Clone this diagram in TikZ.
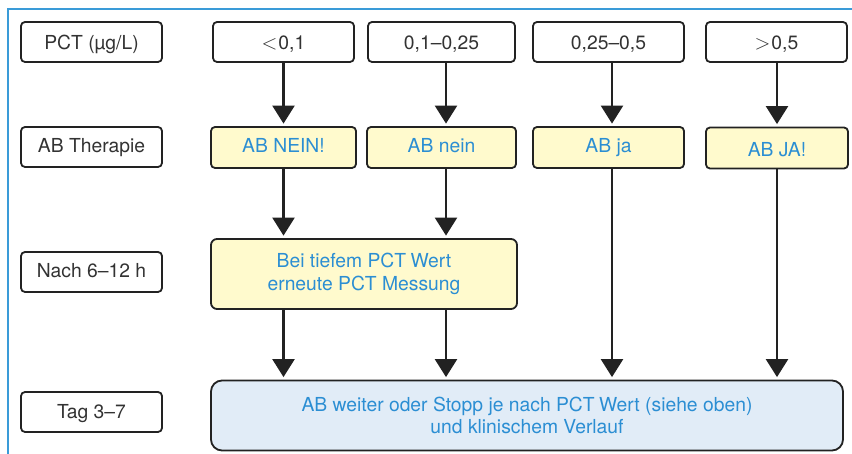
\documentclass[tikz,border=0pt]{standalone}
\usepackage{fontspec}
\setmainfont{TeX Gyre Heros}
\usetikzlibrary{arrows.meta}
\definecolor{boxline}{HTML}{222222}
\definecolor{labgray}{HTML}{333333}
\definecolor{txtblue}{HTML}{2B8ED3}
\definecolor{yel}{HTML}{FFFACD}
\definecolor{lblue}{HTML}{E1ECF7}
\definecolor{frameblue}{HTML}{3A9BD8}
\begin{document}
\begin{tikzpicture}[x=1pt,y=-1pt,
  box/.style={draw=boxline, line width=1.8pt, rounded corners=4pt, inner sep=0pt,
    font=\fontsize{19.3}{24}\selectfont, text depth=0pt},
  labbox/.style={box, text=labgray, minimum width=141pt, minimum height=40pt, text height=12pt},
  valbox/.style={box, text=labgray, minimum height=40pt, text height=15pt},
  abbox/.style={box, fill=yel, text=txtblue, minimum height=41pt, text height=11pt},
  arr/.style={draw=boxline, line width=2.4pt, -{Triangle[width=22pt,length=18pt]}, shorten >=2.5pt}
]
\useasboundingbox (0,0) rectangle (852,454);
\fill[white] (0,0) rectangle (852,454);
% frame
\draw[frameblue, line width=1.6pt] (8,460) -- (8,9) -- (860,9);

% left labels
\node[labbox, text height=16pt] (l1) at (91.5,42) {PCT (µg/L)};
\node[labbox] (l2) at (91.5,147) {AB Therapie};
\node[labbox] (l3) at (91.5,272) {Nach 6–12 h};
\node[labbox] (l4) at (91.5,412) {Tag 3–7};

% PCT value row
\node[valbox, minimum width=141pt] (v1) at (283.5,42) {$<$\kern1pt0,1};
\node[valbox, minimum width=147pt] (v2) at (441.5,42) {0,1–0,25};
\node[valbox, minimum width=151pt] (v3) at (608.5,42) {0,25–0,5};
\node[valbox, minimum width=141pt] (v4) at (776.5,42) {$>$\kern1pt0,5};

% AB row
\node[abbox, minimum width=145pt] (a1) at (283.5,147.5) {AB NEIN!};
\node[abbox, minimum width=149pt] (a2) at (441.5,147.5) {AB nein};
\node[abbox, minimum width=151pt] (a3) at (608.5,147.5) {AB ja};
\node[abbox, minimum width=142pt, text height=18pt] (a4) at (777,148) {AB JA!};

% after 6-12 h
\node[draw=boxline, line width=1.8pt, rounded corners=6pt, fill=yel, text=txtblue,
  minimum width=306pt, minimum height=70pt, align=center, inner sep=0pt,
  font=\fontsize{19.3}{24}\selectfont] (b) at (364,274)
  {Bei tiefem PCT\kern-1pt\ Wert\\[-0.5pt]erneute PCT Messung};

% day 3-7
\node[draw=boxline, line width=1.8pt, rounded corners=11pt, fill=lblue, text=txtblue,
  minimum width=632pt, minimum height=70pt, align=center, inner sep=0pt,
  font=\fontsize{19.3}{22}\selectfont] (c) at (527,415.5)
  {AB weiter oder Stopp je nach PCT\kern-1pt\ Wert (siehe oben)\\und klinischem Verlauf};

% arrows
\draw[arr] (v1.south -| a1) -- (a1.north);
\draw[arr] (v2.south -| 446,0) -- (a2.north -| 446,0);
\draw[arr] (v3.south -| 612,0) -- (a3.north -| 612,0);
\draw[arr] (v4.south -| 777,0) -- (a4.north -| 777,0);

\draw[arr] (a1.south) -- (b.north -| a1);
\draw[arr] (a2.south -| 446,0) -- (b.north -| 446,0);

\draw[arr] (b.south -| a1) -- (c.north -| a1);
\draw[arr] (b.south -| 446,0) -- (c.north -| 446,0);
\draw[arr] (a3.south -| 612,0) -- (c.north -| 612,0);
\draw[arr] (a4.south -| 777,0) -- (c.north -| 777,0);
\end{tikzpicture}
\end{document}
